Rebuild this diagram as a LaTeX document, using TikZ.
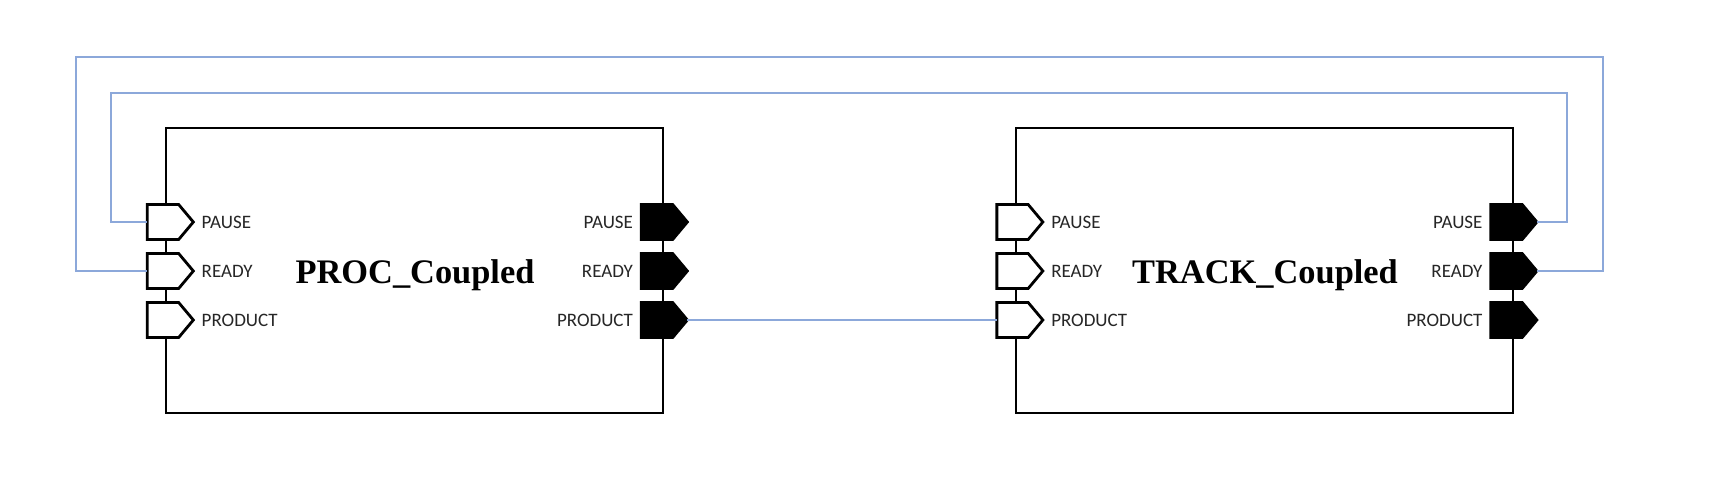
\documentclass[tikz,border=0pt]{standalone}
\usepackage{fontspec}
\setmainfont{Liberation Serif}
\newfontfamily\portfont{Carlito}
\usetikzlibrary{positioning,shapes.symbols}
\definecolor{linkblue}{RGB}{140,168,218}

\begin{document}
\begin{tikzpicture}[x=0.5pt,y=-0.5pt]
  \tikzset{BlockStyle/.style = {
    shape         = rectangle,
    draw          = black,
    fill          = white,
    line width    = 1.3pt,
    minimum width = 248.5pt,
    minimum height= 142.5pt,
    inner sep     = 0pt,
    outer sep     = 0pt
    }
  }
  \tikzset{InPortStyle/.style = {
    shape                = signal,
    signal to            = east,
    signal pointer angle = 100,
    draw                 = black,
    fill                 = white,
    line width           = 1.4pt,
    minimum width        = 23pt,
    minimum height       = 17.5pt,
    inner sep            = 0pt,
    outer sep            = 0pt
    }
  }
  \tikzset{OutPortStyle/.style = {
    InPortStyle,
    fill                 = black
    }
  }
  \tikzset{PortLabelStyle/.style = {
    font          = \portfont\fontsize{9.5}{11}\selectfont,
    text          = black!85,
    inner sep     = 0pt
    }
  }
  \tikzset{TitleStyle/.style = {
    font          = \bfseries\fontsize{17.2}{20}\selectfont,
    inner sep     = 0pt,
    anchor        = base
    }
  }
  \tikzset{LinkStyle/.style = {
    draw          = linkblue,
    line width    = 0.7pt
    }
  }

  \useasboundingbox[fill=white] (0,0) rectangle (1716,500);

	\node[BlockStyle](PROC) at (414.5, 270.5) {};
	\node[BlockStyle](TRACK) at (1264.5, 270.5) {};
	\node[TitleStyle](PROCtitle) at (415, 283) {PROC\_Coupled};
	\node[TitleStyle](TRACKtitle) at (1265, 283) {TRACK\_Coupled};

	\node[InPortStyle](ProcPauseIn) at (163, 222) {};
	\node[InPortStyle](ProcReadyIn) at (163, 271) {};
	\node[InPortStyle](ProcProductIn) at (163, 320) {};
	\node[OutPortStyle](ProcPauseOut) at (657, 222) {};
	\node[OutPortStyle](ProcReadyOut) at (657, 271) {};
	\node[OutPortStyle](ProcProductOut) at (657, 320) {};
	\node[InPortStyle](TrackPauseIn) at (1012.5, 222) {};
	\node[InPortStyle](TrackReadyIn) at (1012.5, 271) {};
	\node[InPortStyle](TrackProductIn) at (1012.5, 320) {};
	\node[OutPortStyle](TrackPauseOut) at (1506.5, 222) {};
	\node[OutPortStyle](TrackReadyOut) at (1506.5, 271) {};
	\node[OutPortStyle](TrackProductOut) at (1506.5, 320) {};

	\node[PortLabelStyle, right=4pt of ProcPauseIn] {PAUSE};
	\node[PortLabelStyle, right=4pt of ProcReadyIn] {READY};
	\node[PortLabelStyle, right=4pt of ProcProductIn] {PRODUCT};
	\node[PortLabelStyle, left=4pt of ProcPauseOut] {PAUSE};
	\node[PortLabelStyle, left=4pt of ProcReadyOut] {READY};
	\node[PortLabelStyle, left=4pt of ProcProductOut] {PRODUCT};
	\node[PortLabelStyle, right=4pt of TrackPauseIn] {PAUSE};
	\node[PortLabelStyle, right=4pt of TrackReadyIn] {READY};
	\node[PortLabelStyle, right=4pt of TrackProductIn] {PRODUCT};
	\node[PortLabelStyle, left=4pt of TrackPauseOut] {PAUSE};
	\node[PortLabelStyle, left=4pt of TrackReadyOut] {READY};
	\node[PortLabelStyle, left=4pt of TrackProductOut] {PRODUCT};

	\coordinate (PauseLoopR) at (1567, 93);
	\coordinate (PauseLoopL) at (111, 93);
	\coordinate (ReadyLoopR) at (1603, 57);
	\coordinate (ReadyLoopL) at (76, 57);

	\draw[LinkStyle](ProcProductOut.east) -- (TrackProductIn.west);
	\draw[LinkStyle](TrackPauseOut.east) -| (PauseLoopR) -- (PauseLoopL) |- (ProcPauseIn.west);
	\draw[LinkStyle](TrackReadyOut.east) -| (ReadyLoopR) -- (ReadyLoopL) |- (ProcReadyIn.west);

\end{tikzpicture}
\end{document}
